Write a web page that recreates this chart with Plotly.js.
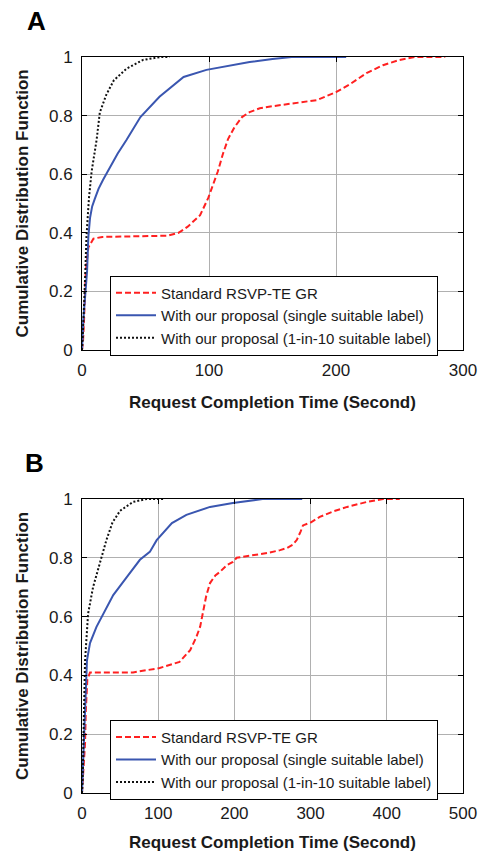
<!DOCTYPE html>
<html>
<head>
<meta charset="utf-8">
<script src="https://cdn.plot.ly/plotly-3.0.1.min.js"></script>
<style>html,body{margin:0;padding:0;background:#fff;}#chart{width:484px;height:852px;}</style>
</head>
<body>
<div id="chart"></div>
<script>
// ---- Data ----
const seriesNames = ["Standard RSVP-TE GR", "With our proposal (single suitable label)", "With our proposal (1-in-10 suitable label)"];

// Panel A
const aStdX = [0, 0.8, 1.6, 3, 5, 9, 16, 40, 67, 76, 83, 88, 93, 99.5, 104, 107, 111, 115, 120, 126, 132, 140, 150, 164, 185, 200, 212, 224, 237, 250, 262, 275, 286];
const aStdY = [0, 0.03, 0.10, 0.27, 0.35, 0.38, 0.386, 0.388, 0.39, 0.40, 0.42, 0.44, 0.46, 0.52, 0.57, 0.61, 0.67, 0.72, 0.76, 0.795, 0.812, 0.825, 0.832, 0.84, 0.853, 0.88, 0.91, 0.945, 0.972, 0.99, 1.0, 1.0, 1.0];
const aSingleX = [0, 1, 4, 5, 6.3, 8, 10, 13, 16.5, 22, 28, 35, 46, 61, 80, 98, 115, 132, 150, 165, 185, 208];
const aSingleY = [0, 0.1, 0.27, 0.386, 0.45, 0.49, 0.515, 0.55, 0.58, 0.625, 0.67, 0.717, 0.795, 0.864, 0.932, 0.956, 0.97, 0.983, 0.993, 1.0, 1.0, 1.0];
const aTenX = [0, 0.6, 2.4, 3.5, 5.5, 7.6, 11.5, 14, 19, 25, 35, 48, 62, 69];
const aTenY = [0, 0.045, 0.24, 0.386, 0.52, 0.61, 0.717, 0.81, 0.87, 0.92, 0.96, 0.99, 1.0, 1.0];

// Panel B
const bStdX = [0, 2, 4, 5, 7, 10.5, 30, 67, 102, 128, 142, 150, 155, 159, 163, 168, 175, 181, 190, 198, 203, 220, 243, 260, 269, 277, 282, 287, 290, 300, 312, 330, 348, 374, 395, 417];
const bStdY = [0, 0.08, 0.17, 0.28, 0.385, 0.41, 0.41, 0.41, 0.425, 0.446, 0.486, 0.53, 0.565, 0.622, 0.67, 0.714, 0.74, 0.752, 0.775, 0.786, 0.80, 0.807, 0.816, 0.826, 0.833, 0.845, 0.861, 0.89, 0.91, 0.92, 0.939, 0.958, 0.973, 0.99, 1.0, 1.0];
const bSingleX = [0, 1.7, 4, 6.5, 10.5, 19, 28, 41, 59, 76, 89, 98, 118, 137, 168, 198, 237, 260, 289];
const bSingleY = [0, 0.14, 0.28, 0.45, 0.51, 0.565, 0.61, 0.673, 0.735, 0.793, 0.82, 0.86, 0.918, 0.946, 0.973, 0.986, 1.0, 1.0, 1.0];
const bTenX = [0, 1, 2.6, 4, 6.5, 8, 14.5, 24, 32, 40, 50, 67, 85, 109];
const bTenY = [0, 0.05, 0.28, 0.45, 0.55, 0.61, 0.70, 0.79, 0.86, 0.92, 0.96, 0.99, 1.0, 1.0];

const xTicksA = [0, 100, 200, 300];
const xTicksB = [0, 100, 200, 300, 400, 500];
const yTicks = [0, 0.2, 0.4, 0.6, 0.8, 1];
const yTickText = ["0", "0.2", "0.4", "0.6", "0.8", "1"];

const xTitle = "Request Completion Time (Second)";
const yTitle = "Cumulative Distribution Function";

// ---- Styles ----
const styles = [
  {color: "#ff2020", width: 2, dash: "6px,3px"},
  {color: "#3a56b0", width: 2, dash: "solid"},
  {color: "#111111", width: 2, dash: "2px,2px"}
];

function tr(x, y, i, xa, ya, leg) {
  return {x: x, y: y, type: "scatter", mode: "lines", name: seriesNames[i],
    line: styles[i], xaxis: xa, yaxis: ya, legend: leg, showlegend: true};
}

const data = [
  tr(aStdX, aStdY, 0, "x", "y", "legend"),
  tr(aSingleX, aSingleY, 1, "x", "y", "legend"),
  tr(aTenX, aTenY, 2, "x", "y", "legend"),
  tr(bStdX, bStdY, 0, "x2", "y2", "legend2"),
  tr(bSingleX, bSingleY, 1, "x2", "y2", "legend2"),
  tr(bTenX, bTenY, 2, "x2", "y2", "legend2")
];

const tickFont = {family: "Liberation Sans, Arial, sans-serif", size: 17, color: "#1a1a1a"};
const axCommon = {
  showline: true, linecolor: "#000", linewidth: 1, mirror: "ticks",
  ticks: "inside", ticklen: 5, tickcolor: "#000", tickwidth: 1,
  showgrid: true, gridcolor: "#b0b0b0", gridwidth: 1,
  zeroline: false, tickfont: tickFont, fixedrange: true
};

function ax(extra) { return Object.assign({}, axCommon, extra); }

const legCommon = {
  bgcolor: "#fff", bordercolor: "#000", borderwidth: 1,
  font: {family: "Liberation Sans, Arial, sans-serif", size: 15, color: "#1a1a1a"},
  xref: "paper", yref: "paper", xanchor: "left", yanchor: "top",
  tracegroupgap: 0, itemwidth: 40
};

const titleFont = {family: "Liberation Sans, Arial, sans-serif", size: 17, color: "#1a1a1a", weight: "bold"};
const panelFont = {family: "Liberation Sans, Arial, sans-serif", size: 26, color: "#000", weight: "bold"};

const layout = {
  width: 484, height: 852,
  margin: {l: 82, r: 21, t: 57, b: 59},
  paper_bgcolor: "#fff", plot_bgcolor: "#fff",
  showlegend: true,
  xaxis: ax({domain: [0, 1], range: [0, 300], tickvals: xTicksA, anchor: "y", ticklabelstandoff: 5}),
  yaxis: ax({domain: [0.6019, 1], range: [0, 1], tickvals: yTicks, ticktext: yTickText, anchor: "x", ticklabelstandoff: 5}),
  xaxis2: ax({domain: [0, 1], range: [0, 500], tickvals: xTicksB, anchor: "y2", ticklabelstandoff: 5}),
  yaxis2: ax({domain: [0, 0.3995], range: [0, 1], tickvals: yTicks, ticktext: yTickText, anchor: "x2", ticklabelstandoff: 5}),
  legend: Object.assign({}, legCommon, {x: 0.0735, y: 0.703}),
  legend2: Object.assign({}, legCommon, {x: 0.0735, y: 0.0995}),
  annotations: [
    {text: xTitle, xref: "paper", yref: "paper", x: 0.5, y: 0.5299, showarrow: false, font: titleFont, xanchor: "center", yanchor: "middle"},
    {text: xTitle, xref: "paper", yref: "paper", x: 0.5, y: -0.0666, showarrow: false, font: titleFont, xanchor: "center", yanchor: "middle"},
    {text: yTitle, xref: "paper", yref: "paper", x: -0.1575, y: 0.801, textangle: -90, showarrow: false, font: titleFont, xanchor: "center", yanchor: "middle"},
    {text: yTitle, xref: "paper", yref: "paper", x: -0.1575, y: 0.1997, textangle: -90, showarrow: false, font: titleFont, xanchor: "center", yanchor: "middle"},
    {text: "A", xref: "paper", yref: "paper", x: -0.1207, y: 1.0489, showarrow: false, font: panelFont, xanchor: "center", yanchor: "middle"},
    {text: "B", xref: "paper", yref: "paper", x: -0.1234, y: 0.4484, showarrow: false, font: panelFont, xanchor: "center", yanchor: "middle"}
  ]
};

Plotly.newPlot("chart", data, layout, {displayModeBar: false, staticPlot: true});
</script>
</body>
</html>
